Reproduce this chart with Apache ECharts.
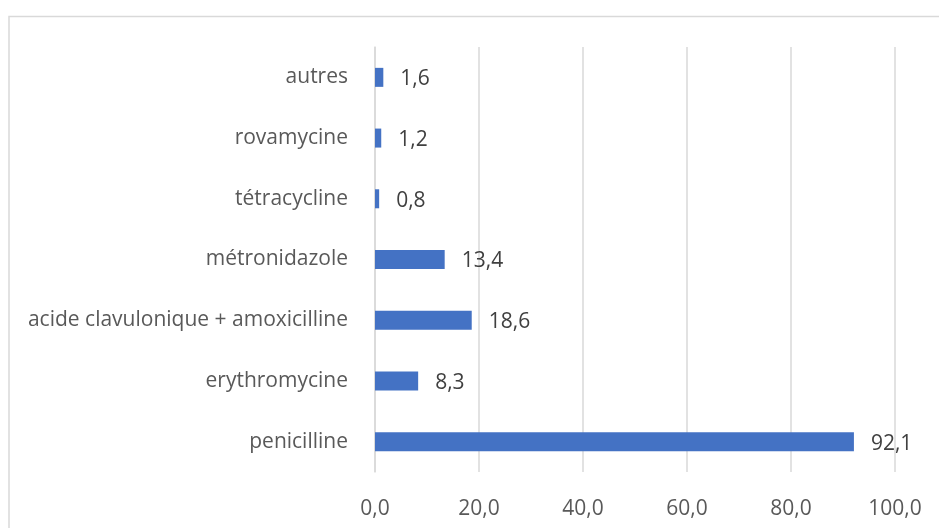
<!DOCTYPE html>
<html>
<head>
<meta charset="utf-8">
<script src="https://cdn.jsdelivr.net/npm/echarts@6/dist/echarts.min.js"></script>
<style>
  html, body { margin: 0; padding: 0; background: #fff; }
  #chart { width: 939px; height: 528px; }
</style>
</head>
<body>
<div id="chart"></div>
<script>
// categories listed bottom to top, like the picture
const categories = [
  "penicilline",
  "erythromycine",
  "acide clavulonique + amoxicilline",
  "métronidazole",
  "tétracycline",
  "rovamycine",
  "autres",
];
const values = [92.1, 8.3, 18.6, 13.4, 0.8, 1.2, 1.6];
const xTicks = [0, 20, 40, 60, 80, 100];

const fmt = (v) => v.toFixed(1).replace(".", ",");
const font = "Open Sans";

const chart = echarts.init(document.getElementById("chart"));

chart.setOption({
  backgroundColor: "#fff",
  animation: false,
  graphic: [
    {
      type: "rect",
      shape: { x: 9, y: 16.5, width: 960, height: 560 },
      style: { fill: "none", stroke: "#d9d9d9", lineWidth: 1.5 },
      silent: true,
    },
  ],
  grid: { left: 375, right: 44, top: 47, bottom: 56 },
  xAxis: {
    type: "value",
    min: xTicks[0],
    max: xTicks[xTicks.length - 1],
    interval: 20,
    axisLine: { show: false },
    axisTick: { show: false },
    axisLabel: {
      color: "#595959",
      fontFamily: font,
      fontSize: 21,
      margin: 27,
      formatter: (v) => fmt(v),
    },
    splitLine: { show: true, lineStyle: { color: "#d9d9d9", width: 1.5 } },
  },
  yAxis: {
    type: "category",
    data: categories,
    axisLine: { show: true, lineStyle: { color: "#d9d9d9", width: 1.5 } },
    axisTick: { show: false },
    axisLabel: {
      color: "#595959",
      fontFamily: font,
      fontSize: 21,
      margin: 27,
      padding: [4, 0, 0, 0],
    },
  },
  series: [
    {
      type: "bar",
      data: values,
      barWidth: 19,
      itemStyle: { color: "#4472c4" },
      label: {
        show: true,
        position: "right",
        distance: 17,
        offset: [0, 2],
        color: "#404040",
        fontFamily: font,
        fontSize: 21,
        formatter: (p) => fmt(p.value),
      },
    },
  ],
});
</script>
</body>
</html>
